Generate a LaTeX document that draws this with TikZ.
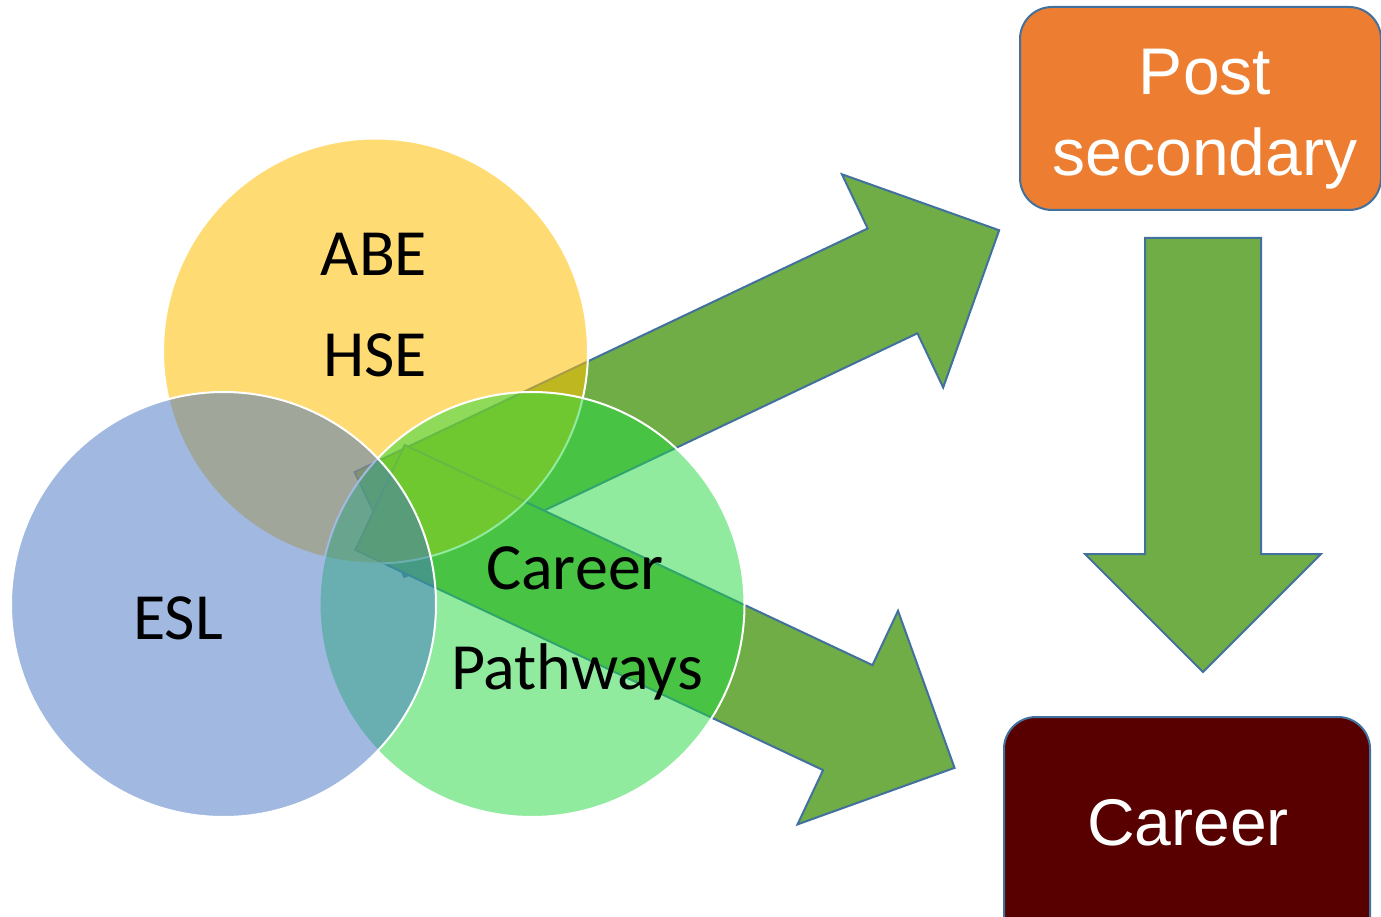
\documentclass[tikz,border=0pt]{standalone}
\usepackage{fontspec}
\newfontfamily\carlitofont{Carlito}
\newfontfamily\arialfont{Liberation Sans}
\definecolor{arrowgreen}{HTML}{70AD47}
\definecolor{edgeblue}{HTML}{41719C}
\definecolor{abeyellow}{HTML}{FFC000}
\definecolor{eslblue}{HTML}{4472C4}
\definecolor{cpgreen}{RGB}{35,217,65}
\definecolor{postorange}{HTML}{ED7D31}
\definecolor{careermaroon}{HTML}{580000}
\tikzset{
  blockarr/.pic={
    \draw[fill=arrowgreen, draw=edgeblue, line width=2pt, line join=miter]
      (0,-58) -- (#1-118,-58) -- (#1-118,-118) -- (#1,0) -- (#1-118,118)
      -- (#1-118,58) -- (0,58) -- cycle;
  },
  venn/.style={circle, minimum size=425pt, inner sep=0pt, draw=white, line width=2pt},
  vennlabel/.style={anchor=base, font=\carlitofont\fontsize{66}{76}\selectfont, text=black, inner sep=0pt},
  goalbox/.style={draw=edgeblue, line width=2pt, rounded corners=32pt},
  goallabel/.style={anchor=base, font=\arialfont\fontsize{66}{76}\selectfont, text=white, inner sep=0pt}
}
\begin{document}
\begin{tikzpicture}[x=1pt, y=-1pt]
\useasboundingbox (0,0) rectangle (1381,917);
\clip (0,0) rectangle (1381,917);
\fill[white] (0,0) rectangle (1381,917);
% block arrows (beneath the circles)
\pic[shift={(379.5,524.5)}, rotate=25.4] (uparr) {blockarr=686};
\pic[shift={(380,497.5)}, rotate=-25.2] (dnarr) {blockarr=635};
\pic[shift={(1203,238)}, rotate=-90] (vdarr) {blockarr=434};
% Venn circles
\node[venn, fill=abeyellow, fill opacity=0.55] (abe) at (375.5,351) {};
\node[venn, fill=cpgreen, fill opacity=0.5] (cp) at (532,604.5) {};
\node[venn, fill=eslblue, fill opacity=0.5] (esl) at (223.5,604.5) {};
% Venn labels
\node[vennlabel] (abet) at (374,276) {ABE};
\node[vennlabel] (hset) at (375,376) {HSE};
\node[vennlabel] (eslt) at (178,639) {ESL};
\node[vennlabel] (cpt1) at (575,589) {Career};
\node[vennlabel] (cpt2) at (577,689) {Pathways};
% goal boxes
\draw[goalbox, fill=postorange] (1020,7) rectangle (1381,210);
\node[goallabel] (postt1) at (1205,95) {Post};
\node[goallabel] (postt2) at (1205,176) {secondary};
\draw[goalbox, fill=careermaroon] (1004,717) rectangle (1370,960);
\node[goallabel] (careert) at (1188,845) {Career};
\end{tikzpicture}
\end{document}
